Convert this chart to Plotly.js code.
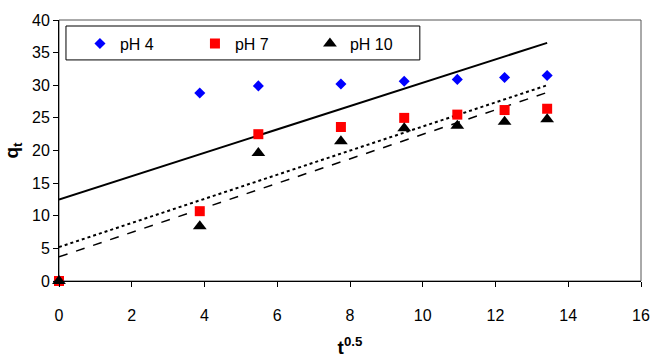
<!DOCTYPE html>
<html>
<head>
<meta charset="utf-8">
<script src="https://cdn.plot.ly/plotly-3.0.1.min.js"></script>
<style>html,body{margin:0;padding:0;background:#fff;}#chart{width:656px;height:361px;}</style>
</head>
<body>
<div id="chart"></div>
<script>
// sqrt(time) values
const tSqrt = [0, 3.87, 5.48, 7.75, 9.49, 10.95, 12.25, 13.42];
const qPH4  = [0, 28.8, 29.9, 30.2, 30.6, 30.9, 31.2, 31.5];
const qPH7  = [0, 10.7, 22.5, 23.6, 25.0, 25.5, 26.2, 26.4];
const qPH10 = [0, 8.4, 19.6, 21.4, 23.4, 23.8, 24.4, 24.8];

// linear trend lines (intra-particle diffusion fits)
const fitT    = [0, 13.42];
const fitPH4  = [12.5, 36.5];
const fitPH7  = [5.2, 30.0];
const fitPH10 = [3.7, 28.9];

const xTicks = [0, 2, 4, 6, 8, 10, 12, 14, 16];
const yTicks = [0, 5, 10, 15, 20, 25, 30, 35, 40];

const FONT = "Arial, 'Liberation Sans', sans-serif";

const traces = [
  {x: fitT, y: fitPH4, mode: 'lines', line: {color: '#000', width: 2, dash: 'solid'}, showlegend: false, hoverinfo: 'skip'},
  {x: fitT, y: fitPH7, mode: 'lines', line: {color: '#000', width: 2, dash: 'dot'}, showlegend: false, hoverinfo: 'skip'},
  {x: fitT, y: fitPH10, mode: 'lines', line: {color: '#000', width: 1.5, dash: 'dash'}, showlegend: false, hoverinfo: 'skip'},
  {x: tSqrt, y: qPH4, name: 'pH 4', mode: 'markers', cliponaxis: false,
   marker: {symbol: 'diamond', size: 8.5, color: '#0000ff'}},
  {x: tSqrt, y: qPH7, name: 'pH 7', mode: 'markers', cliponaxis: false,
   marker: {symbol: 'square', size: 10, color: '#ff0000'}},
  {x: tSqrt, y: qPH10, name: 'pH 10', mode: 'markers', cliponaxis: false,
   marker: {symbol: 'triangle-up', size: 12, color: '#000000'}}
];

const layout = {
  width: 656, height: 361,
  margin: {l: 59, r: 15, t: 20, b: 80},
  paper_bgcolor: '#fff', plot_bgcolor: '#fff',
  font: {family: FONT, size: 16, color: '#000'},
  showlegend: true,
  legend: {
    orientation: 'h', x: 0.036, y: 0.975, xanchor: 'left', yanchor: 'top',
    borderwidth: 0, bgcolor: 'rgba(0,0,0,0)',
    font: {family: FONT, size: 16, color: '#000'},
    entrywidth: 70, entrywidthmode: 'pixels'
  },
  xaxis: {
    range: [0, 16], tickvals: xTicks, ticktext: xTicks.map(String),
    showgrid: false, zeroline: false, showline: true, linecolor: '#000', linewidth: 1,
    ticks: 'outside', ticklen: 5, tickcolor: '#000', ticklabelstandoff: 15,
    tickfont: {family: FONT, size: 16},
    title: {text: 't<sup>0.5</sup>', font: {family: FONT, size: 19, weight: 'bold'}, standoff: 17}
  },
  yaxis: {
    range: [0, 40], tickvals: yTicks, ticktext: yTicks.map(String),
    showgrid: false, zeroline: false, showline: true, linecolor: '#000', linewidth: 1,
    ticks: 'outside', ticklen: 5, tickcolor: '#000',
    tickfont: {family: FONT, size: 16},
    title: {text: 'q<sub>t</sub>', font: {family: FONT, size: 19, weight: 'bold'}, standoff: 8}
  },
  shapes: [
    {type: 'rect', xref: 'x domain', yref: 'y domain', x0: 0, x1: 1, y0: 0, y1: 1,
     line: {color: '#555', width: 1}, layer: 'below'},
    {type: 'rect', xref: 'paper', yref: 'paper', x0: 0.012, x1: 0.620, y0: 0.847, y1: 0.977,
     line: {color: '#000', width: 1}, fillcolor: '#fff', layer: 'below'}
  ]
};

Plotly.newPlot('chart', traces, layout, {displayModeBar: false, staticPlot: true});
</script>
</body>
</html>
